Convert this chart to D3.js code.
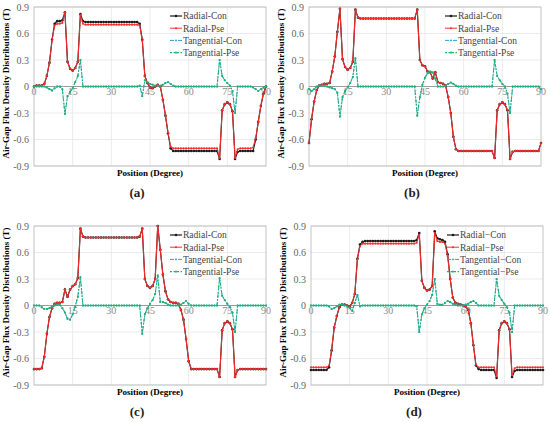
<!DOCTYPE html>
<html>
<head>
<meta charset="utf-8">
<script src="https://cdn.jsdelivr.net/npm/d3@7"></script>
<style>
  body { margin: 0; background: #fff; }
  text { font-family: "Liberation Serif", "DejaVu Serif", "Times New Roman", serif; }
</style>
</head>
<body>
<svg id="chart" width="550" height="422"></svg>
<script>
// sampling grid: one sample per degree
const positions = d3.range(0, 91);
const xTicks = [0, 15, 30, 45, 60, 75, 90];
const yTicks = [0.9, 0.6, 0.3, 0, -0.3, -0.6, -0.9];
const yTickLabels = ["0.9", "0.6", "0.3", "0", "-0.3", "-0.6", "-0.9"];
const seriesNames = ["Radial-Con", "Radial-Pse", "Tangential-Con", "Tangential-Pse"];
const seriesNamesD = ["Radial\u2212Con", "Radial\u2212Pse", "Tangential\u2212Con", "Tangential\u2212Pse"];
const panelLabels = ["(a)", "(b)", "(c)", "(d)"];

// ---- (a) ----
const radialConA = [
  0.00,0.01,0.01,0.01,0.03,0.12,0.27,0.53,0.71,0.74,
  0.74,0.75,0.84,0.28,0.20,0.18,0.21,0.28,0.82,0.74,
  0.73,0.73,0.73,0.73,0.73,0.73,0.73,0.73,0.73,0.73,
  0.73,0.73,0.73,0.73,0.73,0.73,0.73,0.73,0.73,0.73,
  0.73,0.71,0.53,0.12,0.04,-0.01,-0.02,0.00,0.02,0.00,
  -0.15,-0.33,-0.53,-0.70,-0.73,-0.73,-0.73,-0.73,-0.73,-0.73,
  -0.73,-0.73,-0.73,-0.73,-0.73,-0.73,-0.73,-0.73,-0.73,-0.73,
  -0.73,-0.73,-0.82,-0.27,-0.20,-0.18,-0.20,-0.28,-0.82,-0.74,
  -0.73,-0.73,-0.73,-0.73,-0.73,-0.73,-0.60,-0.40,-0.22,-0.08,
  0.00];
const radialPseA = [
  0.00,0.01,0.01,0.01,0.03,0.12,0.27,0.52,0.69,0.71,
  0.71,0.72,0.84,0.28,0.20,0.18,0.21,0.28,0.81,0.71,
  0.70,0.70,0.70,0.70,0.70,0.70,0.70,0.70,0.70,0.70,
  0.70,0.70,0.70,0.70,0.70,0.70,0.70,0.70,0.70,0.70,
  0.70,0.69,0.52,0.12,0.04,-0.01,-0.02,0.00,0.02,0.00,
  -0.15,-0.33,-0.52,-0.68,-0.70,-0.70,-0.70,-0.70,-0.70,-0.70,
  -0.70,-0.70,-0.70,-0.70,-0.70,-0.70,-0.70,-0.70,-0.70,-0.70,
  -0.70,-0.70,-0.81,-0.27,-0.20,-0.18,-0.20,-0.28,-0.81,-0.71,
  -0.70,-0.70,-0.70,-0.70,-0.70,-0.69,-0.58,-0.40,-0.22,-0.08,
  0.00];
const tangConA = [
  0.00,0.00,0.00,0.00,0.00,-0.01,-0.03,-0.045,-0.02,0.00,
  0.00,-0.03,-0.31,-0.11,-0.06,-0.02,0.05,0.12,0.30,0.00,
  0.00,0.00,0.00,0.00,0.00,0.00,0.00,0.00,0.00,0.00,
  0.00,0.00,0.00,0.00,0.00,0.00,0.00,0.00,0.00,0.00,
  0.00,0.01,-0.11,0.07,0.05,0.03,0.02,0.01,0.01,0.01,
  0.02,0.04,0.05,0.03,0.01,0.00,0.00,0.00,0.00,0.00,
  0.00,0.00,0.00,0.00,0.00,0.00,0.00,0.00,0.00,0.00,
  0.00,0.00,0.30,0.12,0.07,0.04,0.01,-0.05,-0.30,0.00,
  0.00,0.00,0.00,0.00,0.00,-0.01,-0.03,-0.05,-0.03,-0.01,
  0.00];
const tangPseA = [
  0.00,0.00,0.00,0.00,0.00,-0.01,-0.03,-0.045,-0.02,0.00,
  0.00,-0.03,-0.31,-0.11,-0.06,-0.02,0.05,0.12,0.30,0.00,
  0.00,0.00,0.00,0.00,0.00,0.00,0.00,0.00,0.00,0.00,
  0.00,0.00,0.00,0.00,0.00,0.00,0.00,0.00,0.00,0.00,
  0.00,0.01,-0.11,0.07,0.05,0.03,0.02,0.01,0.01,0.01,
  0.02,0.04,0.05,0.03,0.01,0.00,0.00,0.00,0.00,0.00,
  0.00,0.00,0.00,0.00,0.00,0.00,0.00,0.00,0.00,0.00,
  0.00,0.00,0.30,0.12,0.07,0.04,0.01,-0.05,-0.30,0.00,
  0.00,0.00,0.00,0.00,0.00,-0.01,-0.03,-0.05,-0.03,-0.01,
  0.00];

// ---- (b) ----
const radialConB = [
  -0.64,-0.37,-0.17,-0.04,0.01,0.02,0.03,0.03,0.04,0.17,
  0.34,0.62,0.88,0.31,0.22,0.19,0.21,0.28,0.87,0.78,
  0.77,0.77,0.77,0.77,0.77,0.77,0.77,0.77,0.77,0.77,
  0.77,0.77,0.77,0.77,0.77,0.77,0.77,0.77,0.77,0.77,
  0.77,0.77,0.87,0.30,0.24,0.23,0.17,0.16,0.09,0.16,
  0.05,0.04,0.03,0.01,-0.12,-0.30,-0.57,-0.71,-0.73,-0.73,
  -0.73,-0.73,-0.73,-0.73,-0.73,-0.73,-0.73,-0.73,-0.73,-0.73,
  -0.73,-0.73,-0.81,-0.27,-0.20,-0.18,-0.20,-0.27,-0.82,-0.74,
  -0.73,-0.73,-0.73,-0.73,-0.73,-0.73,-0.73,-0.73,-0.73,-0.73,
  -0.64];
const radialPseB = [
  -0.64,-0.37,-0.17,-0.04,0.01,0.02,0.03,0.03,0.04,0.17,
  0.34,0.62,0.88,0.31,0.22,0.19,0.21,0.28,0.87,0.78,
  0.77,0.77,0.77,0.77,0.77,0.77,0.77,0.77,0.77,0.77,
  0.77,0.77,0.77,0.77,0.77,0.77,0.77,0.77,0.77,0.77,
  0.77,0.77,0.87,0.30,0.24,0.23,0.17,0.16,0.09,0.16,
  0.05,0.04,0.03,0.01,-0.12,-0.30,-0.57,-0.71,-0.73,-0.73,
  -0.73,-0.73,-0.73,-0.73,-0.73,-0.73,-0.73,-0.73,-0.73,-0.73,
  -0.73,-0.73,-0.81,-0.27,-0.20,-0.18,-0.20,-0.27,-0.82,-0.74,
  -0.73,-0.73,-0.73,-0.73,-0.73,-0.73,-0.73,-0.73,-0.73,-0.73,
  -0.64];
const tangConB = [
  -0.03,-0.05,-0.03,0.00,0.01,0.01,0.01,0.00,-0.01,-0.02,
  -0.03,-0.07,-0.34,-0.12,-0.05,-0.01,0.04,0.11,0.32,0.00,
  0.00,0.00,0.00,0.00,0.00,0.00,0.00,0.00,0.00,0.00,
  0.00,0.00,0.00,0.00,0.00,0.00,0.00,0.00,0.00,0.00,
  0.00,0.00,-0.33,-0.12,0.02,0.10,0.15,0.17,0.16,0.09,
  0.00,0.00,0.00,0.01,0.03,0.045,0.03,0.01,0.00,0.00,
  0.00,0.00,0.00,0.00,0.00,0.00,0.00,0.00,0.00,0.00,
  0.00,0.00,0.30,0.12,0.07,0.03,0.00,-0.08,-0.30,0.00,
  0.00,0.00,0.00,0.00,0.00,0.00,0.00,0.00,0.00,0.00,
  -0.03];
const tangPseB = [
  -0.03,-0.05,-0.03,0.00,0.01,0.01,0.01,0.00,-0.01,-0.02,
  -0.03,-0.07,-0.34,-0.12,-0.05,-0.01,0.04,0.11,0.32,0.00,
  0.00,0.00,0.00,0.00,0.00,0.00,0.00,0.00,0.00,0.00,
  0.00,0.00,0.00,0.00,0.00,0.00,0.00,0.00,0.00,0.00,
  0.00,0.00,-0.33,-0.12,0.02,0.10,0.15,0.17,0.16,0.09,
  0.00,0.00,0.00,0.01,0.03,0.045,0.03,0.01,0.00,0.00,
  0.00,0.00,0.00,0.00,0.00,0.00,0.00,0.00,0.00,0.00,
  0.00,0.00,0.30,0.12,0.07,0.03,0.00,-0.08,-0.30,0.00,
  0.00,0.00,0.00,0.00,0.00,0.00,0.00,0.00,0.00,0.00,
  -0.03];

// ---- (c) ----
const radialConC = [
  -0.72,-0.72,-0.72,-0.71,-0.58,-0.32,-0.13,-0.03,0.02,0.03,
  0.03,0.04,0.18,0.10,0.18,0.22,0.24,0.31,0.87,0.78,
  0.77,0.77,0.77,0.77,0.77,0.77,0.77,0.77,0.77,0.77,
  0.77,0.77,0.77,0.77,0.77,0.77,0.77,0.77,0.77,0.77,
  0.77,0.78,0.87,0.30,0.22,0.20,0.22,0.30,0.90,0.63,
  0.35,0.16,0.07,0.04,0.03,0.03,0.02,-0.05,-0.16,-0.38,
  -0.63,-0.72,-0.72,-0.72,-0.72,-0.72,-0.72,-0.72,-0.72,-0.72,
  -0.72,-0.72,-0.81,-0.28,-0.20,-0.18,-0.20,-0.27,-0.81,-0.73,
  -0.72,-0.72,-0.72,-0.72,-0.72,-0.72,-0.72,-0.72,-0.72,-0.72,
  -0.72];
const radialPseC = [
  -0.72,-0.72,-0.72,-0.71,-0.58,-0.32,-0.13,-0.03,0.02,0.03,
  0.03,0.04,0.18,0.10,0.18,0.22,0.24,0.31,0.87,0.78,
  0.77,0.77,0.77,0.77,0.77,0.77,0.77,0.77,0.77,0.77,
  0.77,0.77,0.77,0.77,0.77,0.77,0.77,0.77,0.77,0.77,
  0.77,0.78,0.87,0.30,0.22,0.20,0.22,0.30,0.90,0.63,
  0.35,0.16,0.07,0.04,0.03,0.03,0.02,-0.05,-0.16,-0.38,
  -0.63,-0.72,-0.72,-0.72,-0.72,-0.72,-0.72,-0.72,-0.72,-0.72,
  -0.72,-0.72,-0.81,-0.28,-0.20,-0.18,-0.20,-0.27,-0.81,-0.73,
  -0.72,-0.72,-0.72,-0.72,-0.72,-0.72,-0.72,-0.72,-0.72,-0.72,
  -0.72];
const tangConC = [
  0.00,0.00,0.00,-0.02,-0.04,-0.04,-0.03,-0.01,0.00,0.01,
  0.01,-0.03,-0.08,-0.15,-0.16,-0.10,-0.01,0.10,0.32,0.00,
  0.00,0.00,0.00,0.00,0.00,0.00,0.00,0.00,0.00,0.00,
  0.00,0.00,0.00,0.00,0.00,0.00,0.00,0.00,0.00,0.00,
  0.00,0.00,-0.32,-0.10,-0.03,0.02,0.06,0.13,0.34,0.04,
  0.04,0.03,0.01,0.00,0.00,0.00,0.00,0.01,0.03,0.05,
  0.02,0.00,0.00,0.00,0.00,0.00,0.00,0.00,0.00,0.00,
  0.00,0.00,0.31,0.11,0.06,0.02,-0.02,-0.08,-0.30,0.00,
  0.00,0.00,0.00,0.00,0.00,0.00,0.00,0.00,0.00,0.00,
  0.00];
const tangPseC = [
  0.00,0.00,0.00,-0.02,-0.04,-0.04,-0.03,-0.01,0.00,0.01,
  0.01,-0.03,-0.08,-0.15,-0.16,-0.10,-0.01,0.10,0.32,0.00,
  0.00,0.00,0.00,0.00,0.00,0.00,0.00,0.00,0.00,0.00,
  0.00,0.00,0.00,0.00,0.00,0.00,0.00,0.00,0.00,0.00,
  0.00,0.00,-0.32,-0.10,-0.03,0.02,0.06,0.13,0.34,0.04,
  0.04,0.03,0.01,0.00,0.00,0.00,0.00,0.01,0.03,0.05,
  0.02,0.00,0.00,0.00,0.00,0.00,0.00,0.00,0.00,0.00,
  0.00,0.00,0.31,0.11,0.06,0.02,-0.02,-0.08,-0.30,0.00,
  0.00,0.00,0.00,0.00,0.00,0.00,0.00,0.00,0.00,0.00,
  0.00];

// ---- (d) ----
const radialConD = [
  -0.73,-0.73,-0.73,-0.73,-0.73,-0.73,-0.73,-0.70,-0.51,-0.25,
  -0.12,-0.02,0.01,0.01,0.00,-0.01,0.03,0.13,0.53,0.69,
  0.72,0.73,0.73,0.73,0.73,0.73,0.73,0.73,0.73,0.73,
  0.73,0.73,0.73,0.73,0.73,0.73,0.73,0.73,0.73,0.73,
  0.73,0.74,0.82,0.28,0.20,0.17,0.18,0.22,0.84,0.76,
  0.75,0.74,0.72,0.58,0.30,0.09,0.03,0.02,0.01,0.00,
  -0.01,-0.05,-0.20,-0.45,-0.68,-0.72,-0.73,-0.73,-0.73,-0.73,
  -0.73,-0.73,-0.82,-0.28,-0.20,-0.18,-0.20,-0.27,-0.81,-0.74,
  -0.73,-0.73,-0.73,-0.73,-0.73,-0.73,-0.73,-0.73,-0.73,-0.73,
  -0.73];
const radialPseD = [
  -0.70,-0.70,-0.70,-0.70,-0.70,-0.70,-0.70,-0.68,-0.50,-0.25,
  -0.12,-0.02,0.01,0.01,0.00,-0.01,0.03,0.13,0.52,0.67,
  0.70,0.70,0.70,0.70,0.70,0.70,0.70,0.70,0.70,0.70,
  0.70,0.70,0.70,0.70,0.70,0.70,0.70,0.70,0.70,0.70,
  0.70,0.71,0.80,0.28,0.20,0.17,0.18,0.22,0.82,0.73,
  0.72,0.72,0.70,0.56,0.30,0.09,0.03,0.02,0.01,0.00,
  -0.01,-0.05,-0.20,-0.45,-0.67,-0.70,-0.70,-0.70,-0.70,-0.70,
  -0.70,-0.70,-0.80,-0.28,-0.20,-0.18,-0.20,-0.27,-0.79,-0.71,
  -0.70,-0.70,-0.70,-0.70,-0.70,-0.70,-0.70,-0.70,-0.70,-0.70,
  -0.70];
const tangConD = [
  0.00,0.00,0.00,0.00,0.00,0.00,0.00,-0.01,-0.04,-0.03,
  -0.01,0.01,0.01,0.00,-0.01,-0.03,-0.06,0.03,0.12,-0.01,
  0.00,0.00,0.00,0.00,0.00,0.00,0.00,0.00,0.00,0.00,
  0.00,0.00,0.00,0.00,0.00,0.00,0.00,0.00,0.00,0.00,
  0.00,-0.01,-0.30,-0.10,-0.03,0.01,0.05,0.12,0.30,0.02,
  0.01,0.01,0.03,0.05,0.04,0.02,0.01,0.00,0.00,0.00,
  0.01,0.02,0.04,0.05,0.03,0.00,0.00,0.00,0.00,0.00,
  0.00,0.00,0.30,0.11,0.06,0.02,-0.02,-0.08,-0.30,0.00,
  0.00,0.00,0.00,0.00,0.00,0.00,0.00,0.00,0.00,0.00,
  0.00];
const tangPseD = [
  0.00,0.00,0.00,0.00,0.00,0.00,0.00,-0.01,-0.04,-0.03,
  -0.01,0.01,0.01,0.00,-0.01,-0.03,-0.06,0.03,0.12,-0.01,
  0.00,0.00,0.00,0.00,0.00,0.00,0.00,0.00,0.00,0.00,
  0.00,0.00,0.00,0.00,0.00,0.00,0.00,0.00,0.00,0.00,
  0.00,-0.01,-0.30,-0.10,-0.03,0.01,0.05,0.12,0.30,0.02,
  0.01,0.01,0.03,0.05,0.04,0.02,0.01,0.00,0.00,0.00,
  0.01,0.02,0.04,0.05,0.03,0.00,0.00,0.00,0.00,0.00,
  0.00,0.00,0.30,0.11,0.06,0.02,-0.02,-0.08,-0.30,0.00,
  0.00,0.00,0.00,0.00,0.00,0.00,0.00,0.00,0.00,0.00,
  0.00];

// layout of the four panels (plot-area corners)
var panels = [
  { left: 34,  top: 7,   names: seriesNames,  series: [radialConA, radialPseA, tangConA, tangPseA] },
  { left: 309, top: 7,   names: seriesNames,  series: [radialConB, radialPseB, tangConB, tangPseB] },
  { left: 34,  top: 226, names: seriesNames,  series: [radialConC, radialPseC, tangConC, tangPseC] },
  { left: 311, top: 226, names: seriesNamesD, series: [radialConD, radialPseD, tangConD, tangPseD] }
];
var plotW = 232, plotH = 159;

// line + marker look of each series
var looks = [
  { color: "#1b1b1b", dash: null,          width: 1.2, shape: "circle", size: 1.3 },
  { color: "#ff2b2b", dash: null,          width: 1.0, shape: "circle", size: 1.05 },
  { color: "#2b9fdc", dash: "4,1.5,1,1.5", width: 1.0, shape: "circle", size: 0.9 },
  { color: "#1fb36b", dash: "2,1.5",       width: 1.1, shape: "square", size: 1.8 }
];

var svg = d3.select("#chart");

panels.forEach(function(p, pi) {
  var x = d3.scaleLinear().domain([0, 90]).range([0, plotW]);
  var y = d3.scaleLinear().domain([-0.9, 0.9]).range([plotH, 0]);

  var g = svg.append("g").attr("transform", "translate(" + p.left + "," + p.top + ")");

  // faint grid
  g.append("g").selectAll("line").data(xTicks.slice(1, -1)).join("line")
      .attr("x1", d => x(d)).attr("x2", d => x(d))
      .attr("y1", 0).attr("y2", plotH)
      .attr("stroke", "#e6e6e6").attr("stroke-width", 0.8);
  g.append("g").selectAll("line").data(yTicks.filter(d => d !== 0)).join("line")
      .attr("x1", 0).attr("x2", plotW)
      .attr("y1", d => y(d)).attr("y2", d => y(d))
      .attr("stroke", "#e6e6e6").attr("stroke-width", 0.8);

  // frame
  g.append("rect").attr("width", plotW).attr("height", plotH)
      .attr("fill", "none").attr("stroke", "#b4b4b4").attr("stroke-width", 0.8);

  // y axis labels
  g.append("g").selectAll("text").data(yTicks).join("text")
      .attr("x", -5).attr("y", d => y(d)).attr("dy", "0.35em")
      .attr("text-anchor", "end").attr("font-size", 10).attr("fill", "#666")
      .text((d, i) => yTickLabels[i]);

  // x axis labels sit just under the zero line
  g.append("g").selectAll("text").data(xTicks).join("text")
      .attr("x", d => x(d)).attr("y", y(0) + 8.5)
      .attr("text-anchor", "middle").attr("font-size", 10).attr("fill", "#8c8c8c")
      .text(d => d);

  // zero line
  g.append("line").attr("x1", 0).attr("x2", plotW)
      .attr("y1", y(0)).attr("y2", y(0))
      .attr("stroke", "#9c9c9c").attr("stroke-width", 1.2);

  // titles
  g.append("text").attr("x", plotW / 2).attr("y", plotH + 10)
      .attr("text-anchor", "middle").attr("font-size", 9).attr("font-weight", "bold")
      .text("Position (Degree)");
  g.append("text")
      .attr("transform", "translate(" + (-25) + "," + (plotH / 2 - 3) + ") rotate(-90)")
      .attr("text-anchor", "middle").attr("font-size", 9).attr("font-weight", "bold")
      .text("Air-Gap Flux Density Distributions (T)");
  g.append("text").attr("x", plotW / 2 - 13).attr("y", plotH + 31)
      .attr("text-anchor", "middle").attr("font-size", 13).attr("font-weight", "bold")
      .attr("fill", "#222")
      .text(panelLabels[pi]);

  // series
  var line = d3.line().x((d, i) => x(positions[i])).y(d => y(d));
  p.series.forEach(function(vals, si) {
    var lk = looks[si];
    var sg = g.append("g");
    sg.append("path").datum(vals)
        .attr("d", line)
        .attr("fill", "none")
        .attr("stroke", lk.color)
        .attr("stroke-width", lk.width)
        .attr("stroke-dasharray", lk.dash);
    if (lk.shape === "circle") {
      sg.selectAll("circle").data(vals).join("circle")
          .attr("cx", (d, i) => x(positions[i])).attr("cy", d => y(d))
          .attr("r", lk.size).attr("fill", lk.color);
    } else {
      sg.selectAll("rect").data(vals).join("rect")
          .attr("x", (d, i) => x(positions[i]) - lk.size / 2)
          .attr("y", d => y(d) - lk.size / 2)
          .attr("width", lk.size).attr("height", lk.size).attr("fill", lk.color);
    }
  });

  // legend
  var lg = g.append("g").attr("transform", "translate(136,9)");
  p.names.forEach(function(name, si) {
    var lk = looks[si];
    var row = lg.append("g").attr("transform", "translate(0," + (si * 12.2) + ")");
    row.append("line").attr("x1", 0).attr("x2", 12).attr("y1", 0).attr("y2", 0)
        .attr("stroke", lk.color).attr("stroke-width", lk.width)
        .attr("stroke-dasharray", lk.dash);
    if (lk.shape === "circle") {
      row.append("circle").attr("cx", 6).attr("cy", 0).attr("r", lk.size).attr("fill", lk.color);
    } else {
      row.append("rect").attr("x", 6 - lk.size / 2).attr("y", -lk.size / 2)
          .attr("width", lk.size).attr("height", lk.size).attr("fill", lk.color);
    }
    row.append("text").attr("x", 13).attr("y", 0).attr("dy", "0.35em")
        .attr("font-size", 9.5).attr("fill", "#444").text(name);
  });
});
</script>
</body>
</html>
